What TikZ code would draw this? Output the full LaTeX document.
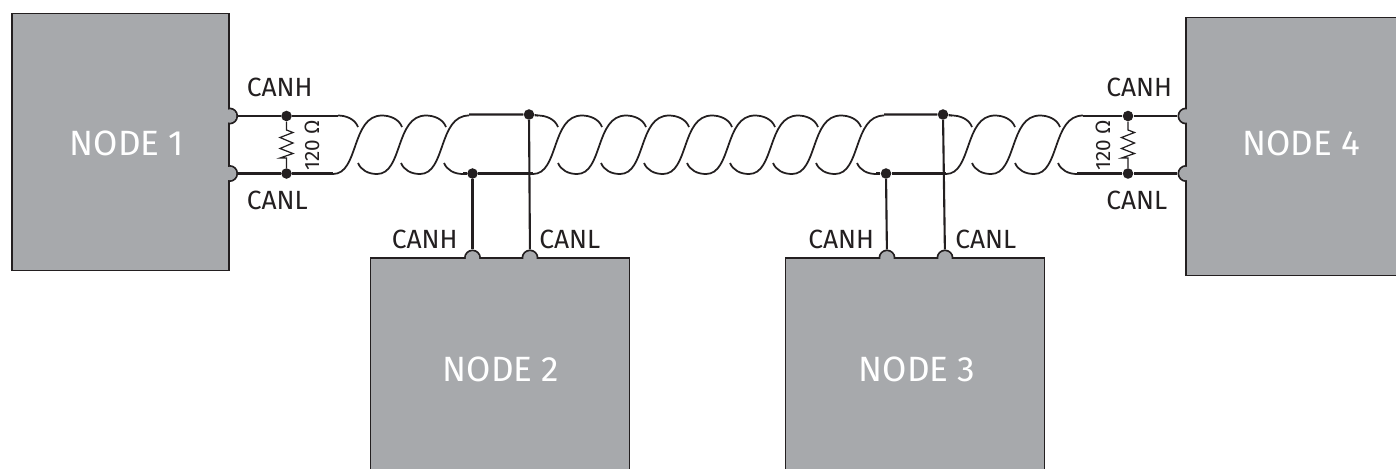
\documentclass[tikz,border=0pt]{standalone}
\usepackage{fontspec}
\setmainfont{Fira Sans}
\definecolor{boxgray}{HTML}{A7A9AC}
\definecolor{inkdark}{HTML}{231F20}
\tikzset{
  nodebox/.style={draw=inkdark,fill=boxgray,line width=1.1pt,rectangle,inner sep=0pt},
  nodetext/.style={text=white,font=\fontsize{20}{24}\selectfont,inner sep=0pt},
  canpin/.style={draw=inkdark,fill=boxgray,line width=1.1pt,circle,minimum size=8.6pt,inner sep=0pt},
  pincap/.style={fill=boxgray,circle,minimum size=7.6pt,inner sep=0pt},
  wire/.style={draw=inkdark,line width=1.2pt},
  twist/.style={draw=inkdark,line width=1pt},
  zig/.style={draw=inkdark,line width=0.7pt},
  junction/.style={fill=inkdark,circle,minimum size=6pt,inner sep=0pt},
  canlabel/.style={text=inkdark,font=\fontsize{15}{18}\selectfont,inner sep=0pt,anchor=west},
  ohmlabel/.style={text=inkdark,font=\fontsize{11.8}{14}\selectfont,inner sep=0pt,rotate=90}
}
\begin{document}
\begin{tikzpicture}[x=0.02cm,y=-0.02cm]
    \useasboundingbox (0,0) rectangle (1396,468);
    \clip (0,0) rectangle (1396,468);

    % pins sit under the boxes
    \foreach \pname/\px/\py in {p1h/229.6/116,p1l/229.6/173.5,p2h/472.5/258,p2l/530/258,p3h/887/258,p3l/945/258,p4h/1186/116,p4l/1186/173.5}{
        \node[canpin] (\pname) at (\px,\py) {};
    }

    \node[nodebox,minimum width=217.6*0.567pt,minimum height=258*0.567pt] (node1) at (120.8,142) {};
    \node[nodebox,minimum width=260*0.567pt,minimum height=222*0.567pt] (node2) at (500,369) {};
    \node[nodebox,minimum width=260*0.567pt,minimum height=222*0.567pt] (node3) at (915,369) {};
    \node[nodebox,minimum width=230*0.567pt,minimum height=259*0.567pt] (node4) at (1301,146.5) {};

    \foreach \cname/\px/\py in {c1h/229.6/116,c1l/229.6/173.5,c2h/472.5/258,c2l/530/258,c3h/887/258,c3l/945/258,c4h/1186/116,c4l/1186/173.5}{
        \node[pincap] (\cname) at (\px,\py) {};
    }

    \node[nodetext] (text1) at (127,143) {NODE 1};
    \node[nodetext] (text2) at (501,369) {NODE 2};
    \node[nodetext] (text3) at (917,369) {NODE 3};
    \node[nodetext] (text4) at (1301,143) {NODE 4};

    \node[junction] (h1) at (286.5,116) {};
    \node[junction] (l1) at (286.5,173.5) {};
    \node[junction] (l2) at (529,114.5) {};
    \node[junction] (h2) at (472.5,173.5) {};
    \node[junction] (l3) at (943,114.5) {};
    \node[junction] (h3) at (886,173.5) {};
    \node[junction] (h4) at (1128,116) {};
    \node[junction] (l4) at (1128,173.5) {};

    \coordinate (top1) at (338,116);
    \coordinate (bot1) at (333,173.5);
    \coordinate (top2a) at (469,114.5);
    \coordinate (top2b) at (538,115.5);
    \coordinate (bot2a) at (463,173.5);
    \coordinate (bot2b) at (533,173.5);
    \coordinate (top3a) at (884,114.5);
    \coordinate (top3b) at (952,115.5);
    \coordinate (bot3a) at (876,173.5);
    \coordinate (bot3b) at (946,173.5);
    \coordinate (top4) at (1083,116);
    \coordinate (bot4) at (1077,173.5);

    \draw[wire] (p1h) -- (h1) -- (top1);
    \draw[wire] (p1l) -- (l1) -- (bot1);
    \draw[wire] (top2a) -- (l2) -- (top2b);
    \draw[wire] (bot2a) -- (h2) -- (bot2b);
    \draw[wire] (top3a) -- (l3) -- (top3b);
    \draw[wire] (bot3a) -- (h3) -- (bot3b);
    \draw[wire] (p4h) -- (h4) -- (top4);
    \draw[wire] (p4l) -- (l4) -- (bot4);
    \draw[wire] (h2) -- (p2h);
    \draw[wire] (l2) -- (p2l);
    \draw[wire] (h3) -- (p3h);
    \draw[wire] (l3) -- (p3l);

    % the twisted pair, in three kinds of piece
    \foreach \x in {358,401,444,558,601,644,687,730,773,816,857,972,1015,1058}{
        \draw[twist] (\x,163) .. controls (\x+3,170) and (\x+10,174) .. (\x+19,174);
    }
    \foreach \x in {314,358,401,514,558,601,644,687,730,773,816,927,972,1015}{
        \draw[twist] (\x+19,174) .. controls (\x+45,174) and (\x+37,115.5) .. (\x+68,115.5);
    }
    \foreach \x in {270,314,358,470,514,558,601,644,687,730,773,884,927,972}{
        \draw[twist] (\x+68,115.5) .. controls (\x+76,115.5) and (\x+85,119) .. (\x+88,127);
    }

    % resistors
    \foreach \rx/\rtop/\rbot in {286.5/h1/l1,1128/h4/l4}{
        \draw[zig] (\rtop) -- (\rx,130) -- (\rx+6.5,132.5) -- (\rx-6.5,137.5) -- (\rx+6.5,143) -- (\rx-6.5,148.5) -- (\rx+6.5,153.5) -- (\rx-6.5,158) -- (\rx,158) -- (\rbot);
    }
    \node[ohmlabel] (ohm1) at (312,145) {120 Ω};
    \node[ohmlabel] (ohm4) at (1103,145) {120 Ω};

    \node[canlabel] (lab1h) at (246.5,87) {CANH};
    \node[canlabel] (lab1l) at (246.5,200) {CANL};
    \node[canlabel] (lab2h) at (391.5,239) {CANH};
    \node[canlabel] (lab2l) at (539,239) {CANL};
    \node[canlabel] (lab3h) at (808,239) {CANH};
    \node[canlabel] (lab3l) at (955,239) {CANL};
    \node[canlabel] (lab4h) at (1106,87) {CANH};
    \node[canlabel] (lab4l) at (1106,200) {CANL};
\end{tikzpicture}
\end{document}
